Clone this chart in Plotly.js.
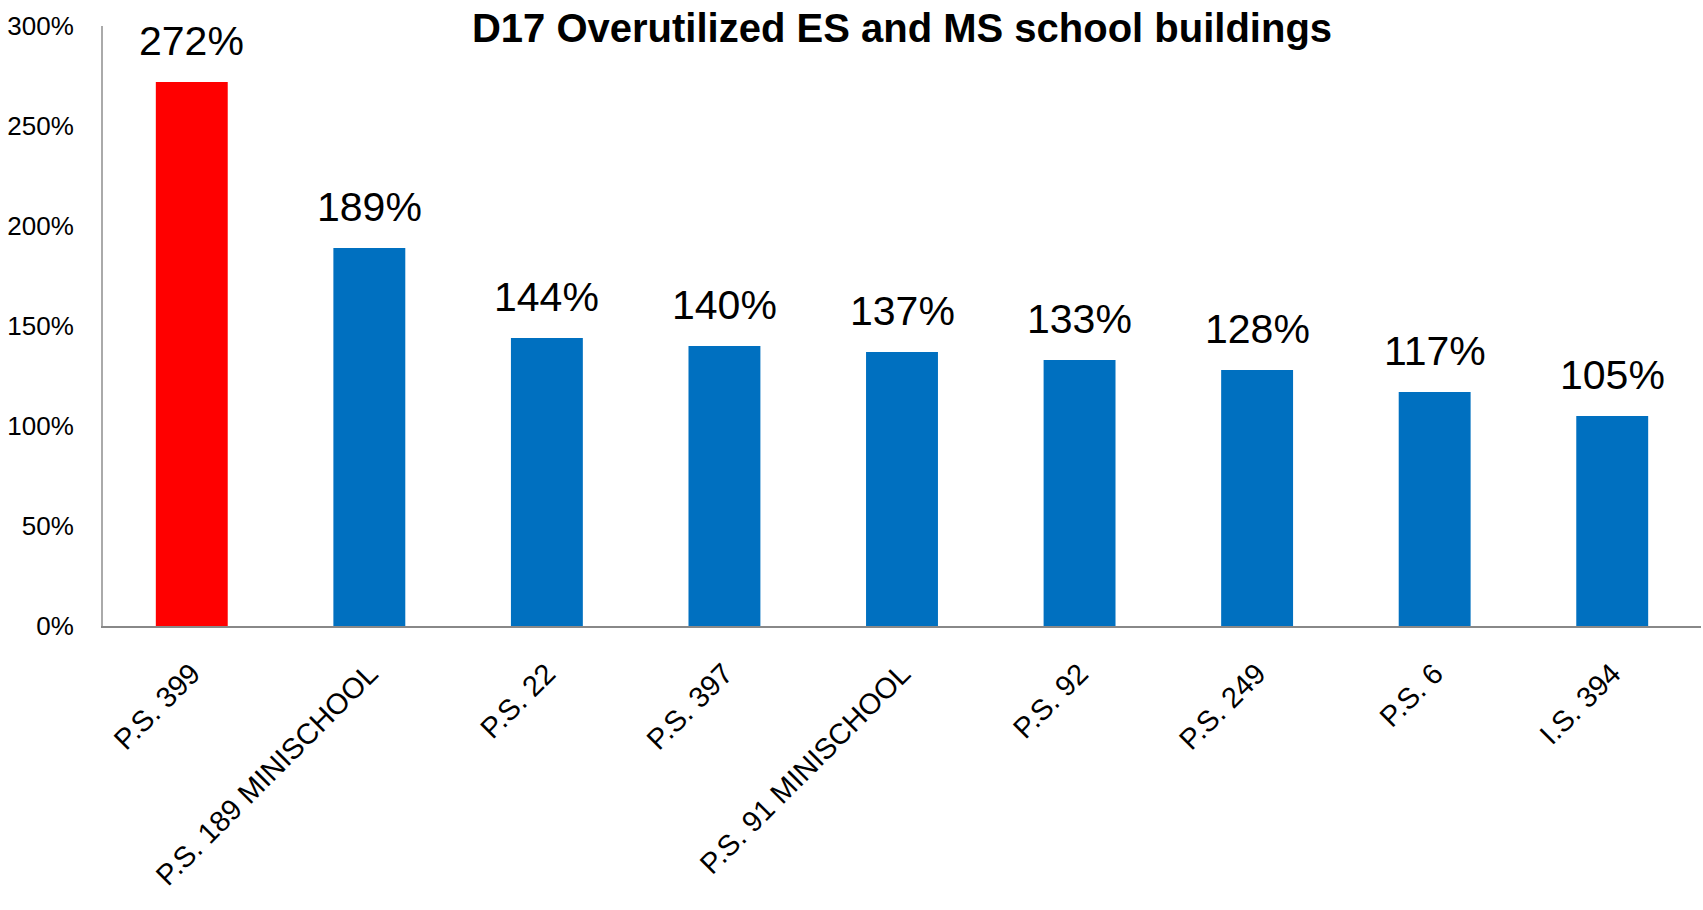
<!DOCTYPE html>
<html>
<head>
<meta charset="utf-8">
<script src="https://cdn.plot.ly/plotly-3.0.1.min.js"></script>
<style>html,body{margin:0;padding:0;background:#fff;}#chart{width:1703px;height:910px;}</style>
</head>
<body>
<div id="chart"></div>
<script>
const schools = ["P.S. 399", "P.S. 189 MINISCHOOL", "P.S. 22", "P.S. 397", "P.S. 91 MINISCHOOL", "P.S. 92", "P.S. 249", "P.S. 6", "I.S. 394"];
const utilization = [272, 189, 144, 140, 137, 133, 128, 117, 105];
const barColors = ["#FF0000", "#0070C0", "#0070C0", "#0070C0", "#0070C0", "#0070C0", "#0070C0", "#0070C0", "#0070C0"];
const yTicks = [0, 50, 100, 150, 200, 250, 300];

const trace = {
  type: "bar",
  x: schools,
  y: utilization,
  marker: {color: barColors, line: {width: 0}},
  hoverinfo: "x+y"
};

const annotations = schools.map((s, i) => ({
  x: s, y: utilization[i], xref: "x", yref: "y",
  text: utilization[i] + "%",
  showarrow: false, yanchor: "bottom", yshift: 16,
  font: {family: "Liberation Sans, Arial, sans-serif", size: 41, color: "#000"}
}));

const layout = {
  width: 1703, height: 910,
  margin: {l: 103, r: 2, t: 26, b: 284},
  paper_bgcolor: "#fff", plot_bgcolor: "#fff",
  showlegend: false,
  bargap: 0.595,
  title: {
    text: "<b>D17 Overutilized ES and MS school buildings</b>",
    x: 0.5, xref: "paper", y: 0.969, yanchor: "middle",
    font: {family: "Liberation Sans, Arial, sans-serif", size: 40, color: "#000"}
  },
  xaxis: {
    type: "category",
    showline: true, linecolor: "#888", linewidth: 2,
    ticks: "", tickangle: -45, ticklabelstandoff: 17,
    tickfont: {family: "Liberation Sans, Arial, sans-serif", size: 29, color: "#000"},
    showgrid: false, zeroline: false, automargin: false
  },
  yaxis: {
    range: [0, 300], tickvals: yTicks, ticktext: yTicks.map(v => v + "%"),
    showline: true, linecolor: "#aaa", linewidth: 2,
    ticks: "", ticklabelstandoff: 22,
    tickfont: {family: "Liberation Sans, Arial, sans-serif", size: 26, color: "#000"},
    showgrid: false, zeroline: false, automargin: false
  },
  annotations: annotations
};

Plotly.newPlot("chart", [trace], layout, {displayModeBar: false, staticPlot: true});
</script>
</body>
</html>
